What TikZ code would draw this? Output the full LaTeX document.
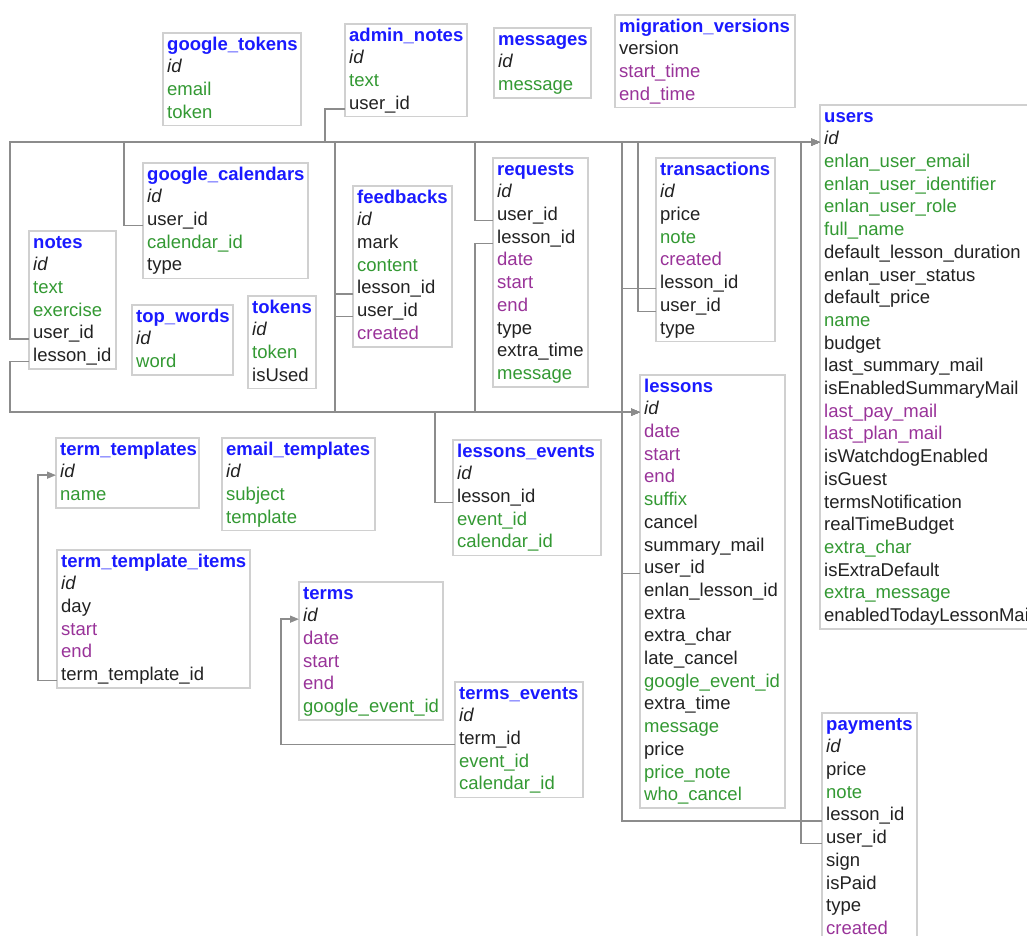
\documentclass[tikz,border=0pt]{standalone}
\usepackage{fontspec}
\setmainfont{Liberation Sans}
\usetikzlibrary{arrows.meta}
\usepackage{xcolor}

\definecolor{ttlblue}{HTML}{1A1AFF}
\definecolor{fgreen}{HTML}{339933}
\definecolor{fpurple}{HTML}{993399}
\definecolor{fblack}{HTML}{222222}
\definecolor{boxgray}{HTML}{D0D0D0}
\definecolor{linkgray}{HTML}{8C8C8C}

\tikzset{
    tblbox/.style={draw=boxgray, line width=1.6pt},
    tbltitle/.style={anchor=base west, inner xsep=4pt, inner ysep=0pt,
        font=\fontsize{18.5}{22}\selectfont\bfseries, text=ttlblue},
    field/.style={anchor=base west, inner xsep=4pt, inner ysep=0pt,
        font=\fontsize{18.5}{22}\selectfont},
    link/.style={draw=linkgray, line width=1.4pt, -{Triangle[length=9pt,width=7pt]}}
}

% name, x, y, width, rows, title, fields
\newcommand{\dbtable}[7]{%
    \draw[tblbox] (#2,#3) rectangle ++(#4,24.5+22.7*#5);
    \node[tbltitle] (#1) at (#2,#3+17.1) {#6};
    \foreach \fld/\clr [count=\i] in {#7}
        \node[field, text=\clr] (#1-\i) at (#2,#3+17.1+22.7*\i) {\fld};
}

\begin{document}
\begin{tikzpicture}[x=1pt, y=-1pt]

\fill[white] (0,0) rectangle (1027,936);
\useasboundingbox (0,0) rectangle (1027,936);

\dbtable{gtokens}{163}{33}{138}{3}{google\_tokens}{\textit{id}/fblack, email/fgreen, token/fgreen}
\dbtable{anotes}{345}{24}{122}{3}{admin\_notes}{\textit{id}/fblack, text/fgreen, user\_id/fblack}
\dbtable{messages}{494}{28}{97}{2}{messages}{\textit{id}/fblack, message/fgreen}
\dbtable{migver}{615}{15}{180}{3}{migration\_versions}{version/fblack, start\_time/fpurple, end\_time/fpurple}
\dbtable{users}{820}{105}{230}{22}{users}{\textit{id}/fblack, enlan\_user\_email/fgreen,
    enlan\_user\_identifier/fgreen, enlan\_user\_role/fgreen, full\_name/fgreen,
    default\_lesson\_duration/fblack, enlan\_user\_status/fblack, default\_price/fblack,
    name/fgreen, budget/fblack, last\_summary\_mail/fblack, isEnabledSummaryMail/fblack,
    last\_pay\_mail/fpurple, last\_plan\_mail/fpurple, isWatchdogEnabled/fblack,
    isGuest/fblack, termsNotification/fblack, realTimeBudget/fblack, extra\_char/fgreen,
    isExtraDefault/fblack, extra\_message/fgreen, enabledTodayLessonMail/fblack}
\dbtable{gcal}{143}{163}{165}{4}{google\_calendars}{\textit{id}/fblack, user\_id/fblack, calendar\_id/fgreen, type/fblack}
\dbtable{notes}{29}{231}{87}{5}{notes}{\textit{id}/fblack, text/fgreen, exercise/fgreen, user\_id/fblack, lesson\_id/fblack}
\dbtable{topwords}{132}{305}{101}{2}{top\_words}{\textit{id}/fblack, word/fgreen}
\dbtable{tokens}{248}{296}{68}{3}{tokens}{\textit{id}/fblack, token/fgreen, isUsed/fblack}
\dbtable{feedbacks}{353}{186}{99}{6}{feedbacks}{\textit{id}/fblack, mark/fblack, content/fgreen,
    lesson\_id/fblack, user\_id/fblack, created/fpurple}
\dbtable{requests}{493}{158}{95}{9}{requests}{\textit{id}/fblack, user\_id/fblack, lesson\_id/fblack,
    date/fpurple, start/fpurple, end/fpurple, type/fblack, extra\_time/fblack, message/fgreen}
\dbtable{trans}{656}{158}{119}{7}{transactions}{\textit{id}/fblack, price/fblack, note/fgreen,
    created/fpurple, lesson\_id/fblack, user\_id/fblack, type/fblack}
\dbtable{lessons}{640}{375}{145}{18}{lessons}{\textit{id}/fblack, date/fpurple, start/fpurple,
    end/fpurple, suffix/fgreen, cancel/fblack, summary\_mail/fblack, user\_id/fblack,
    enlan\_lesson\_id/fblack, extra/fblack, extra\_char/fblack, late\_cancel/fblack,
    google\_event\_id/fgreen, extra\_time/fblack, message/fgreen, price/fblack,
    price\_note/fgreen, who\_cancel/fgreen}
\dbtable{levents}{453}{440}{148}{4}{lessons\_events}{\textit{id}/fblack, lesson\_id/fblack, event\_id/fgreen, calendar\_id/fgreen}
\dbtable{ttempl}{56}{438}{143}{2}{term\_templates}{\textit{id}/fblack, name/fgreen}
\dbtable{etempl}{222}{438}{153}{3}{email\_templates}{\textit{id}/fblack, subject/fgreen, template/fgreen}
\dbtable{ttitems}{57}{550}{193}{5}{term\_template\_items}{\textit{id}/fblack, day/fblack, start/fpurple,
    end/fpurple, term\_template\_id/fblack}
\dbtable{terms}{299}{582}{144}{5}{terms}{\textit{id}/fblack, date/fpurple, start/fpurple, end/fpurple, google\_event\_id/fgreen}
\dbtable{tevents}{455}{682}{128}{4}{terms\_events}{\textit{id}/fblack, term\_id/fblack, event\_id/fgreen, calendar\_id/fgreen}
\dbtable{payments}{822}{713}{95}{9}{payments}{\textit{id}/fblack, price/fblack, note/fgreen,
    lesson\_id/fblack, user\_id/fblack, sign/fblack, isPaid/fblack, type/fblack, created/fpurple}

% user_id -> users.id
\draw[link] (notes-4.base west) -- ++(-19,0) |- (users-1.mid west);
\draw[link] (gcal-2.base west) -- ++(-19,0) |- (users-1.mid west);
\draw[link] (anotes-3.base west) -- ++(-20,0) |- (users-1.mid west);
\draw[link] (feedbacks-5.base west) -- ++(-18,0) |- (users-1.mid west);
\draw[link] (requests-2.base west) -- ++(-18,0) |- (users-1.mid west);
\draw[link] (trans-6.base west) -- ++(-18,0) |- (users-1.mid west);
\draw[link] (lessons-8.base west) -- ++(-18,0) |- (users-1.mid west);
\draw[link] (payments-5.base west) -- ++(-21,0) |- (users-1.mid west);

% lesson_id -> lessons.id
\draw[link] (notes-5.base west) -- ++(-19,0) |- (lessons-1.mid west);
\draw[link] (feedbacks-4.base west) -- ++(-18,0) |- (lessons-1.mid west);
\draw[link] (requests-3.base west) -- ++(-18,0) |- (lessons-1.mid west);
\draw[link] (trans-5.base west) -- ++(-34,0) |- (lessons-1.mid west);
\draw[link] (payments-4.base west) -- ++(-200,0) |- (lessons-1.mid west);
\draw[link] (levents-2.base west) -- ++(-18,0) |- (lessons-1.mid west);

\draw[link] (ttitems-5.base west) -- ++(-19,0) |- (ttempl-1.mid west);
\draw[link] (tevents-2.base west) -- ++(-174,0) |- (terms-1.mid west);

\end{tikzpicture}
\end{document}
